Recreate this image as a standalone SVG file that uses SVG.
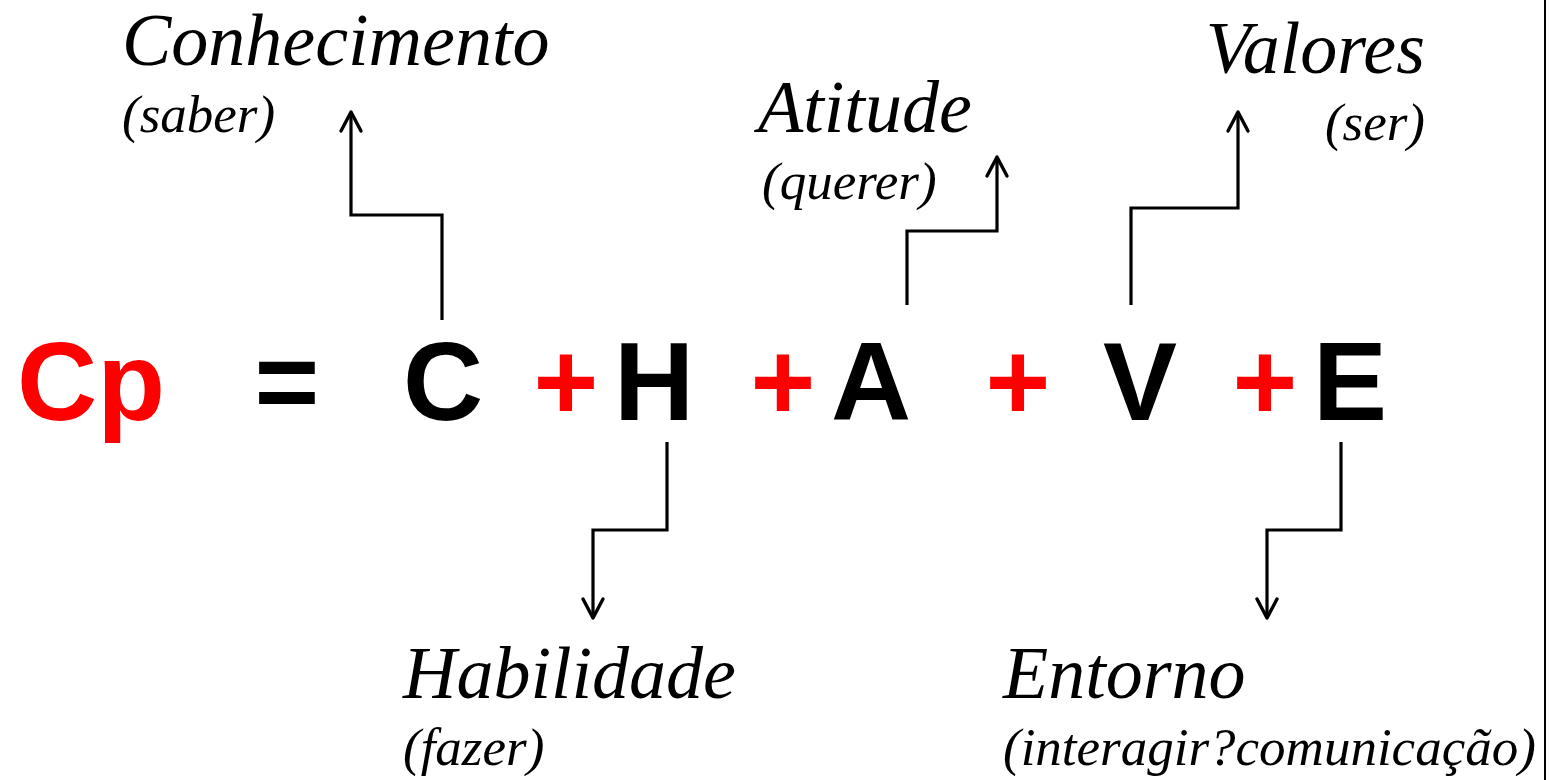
<svg xmlns="http://www.w3.org/2000/svg" width="1550" height="780" viewBox="0 0 1550 780">
<style>
.big{font-family:"Liberation Sans",Arial,sans-serif;font-weight:bold;font-size:111px;text-anchor:middle}
.red{fill:#ff0000}
.blk{fill:#000}
.lbl{font-family:"Liberation Serif","Times New Roman",serif;font-style:italic;fill:#000}
.t{font-size:74px}
.s{font-size:53px}
.con{fill:none;stroke:#000;stroke-width:3.2;stroke-linejoin:miter}
</style>
<defs>
<marker id="ah" markerUnits="userSpaceOnUse" markerWidth="30" markerHeight="30" viewBox="0 0 30 30" refX="22" refY="15" orient="auto">
<path d="M3,5 L22,15 L3,25" fill="none" stroke="#000" stroke-width="3.4" stroke-linecap="round" stroke-linejoin="round"/>
</marker>
</defs>
<rect width="1550" height="780" fill="#fff"/>
<line x1="1545" y1="0" x2="1545" y2="780" stroke="#000" stroke-width="2"/>

<g id="formula">
<text class="big red" x="91" y="420">Cp</text>
<text class="big blk" x="287" y="420">=</text>
<text class="big red" x="566" y="420">+</text>
<text class="big red" x="783" y="420">+</text>
<text class="big red" x="1018" y="420">+</text>
<text class="big red" x="1265" y="420">+</text>
</g>

<g id="node-C"><text class="big blk" x="443" y="420">C</text></g>
<g id="node-H"><text class="big blk" x="654" y="420">H</text></g>
<g id="node-A"><text class="big blk" x="871" y="420">A</text></g>
<g id="node-V"><text class="big blk" x="1140" y="420">V</text></g>
<g id="node-E"><text class="big blk" x="1350" y="420">E</text></g>

<g id="label-conhecimento">
<text class="lbl t" x="122" y="65">Conhecimento</text>
<text class="lbl s" x="122" y="132">(saber)</text>
</g>
<g id="label-atitude">
<text class="lbl t" x="758" y="132">Atitude</text>
<text class="lbl s" x="762" y="199">(querer)</text>
</g>
<g id="label-valores">
<text class="lbl t" x="1425" y="73" text-anchor="end">Valores</text>
<text class="lbl s" x="1425" y="140" text-anchor="end">(ser)</text>
</g>
<g id="label-habilidade">
<text class="lbl t" x="403" y="698">Habilidade</text>
<text class="lbl s" x="403" y="765">(fazer)</text>
</g>
<g id="label-entorno">
<text class="lbl t" x="1003" y="698">Entorno</text>
<text class="lbl s" x="1003" y="765">(interagir?comunicação)</text>
</g>

<g id="connectors">
<polyline class="con" points="442,320 442,215 351,215 351,112" marker-end="url(#ah)"/>
<polyline class="con" points="667,442 667,530 593,530 593,618" marker-end="url(#ah)"/>
<polyline class="con" points="907,305 907,231 997,231 997,157" marker-end="url(#ah)"/>
<polyline class="con" points="1131,305 1131,208 1238,208 1238,112" marker-end="url(#ah)"/>
<polyline class="con" points="1341,442 1341,530 1267,530 1267,618" marker-end="url(#ah)"/>
</g>
</svg>
